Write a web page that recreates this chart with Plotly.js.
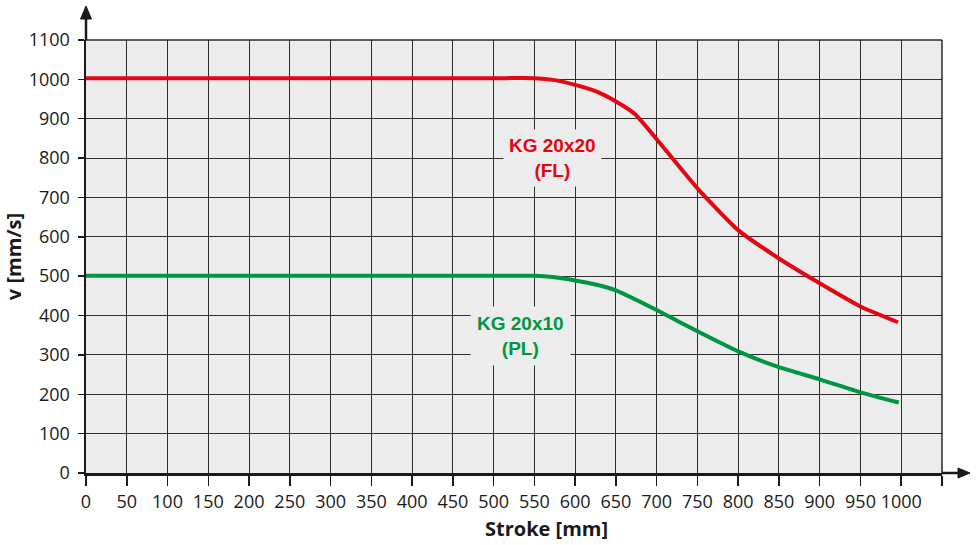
<!DOCTYPE html>
<html>
<head>
<meta charset="utf-8">
<script src="https://cdn.plot.ly/plotly-3.0.1.min.js"></script>
<style>html,body{margin:0;padding:0;background:#fff;}#chart{width:976px;height:545px;}</style>
</head>
<body>
<div id="chart"></div>
<script>
// Stroke [mm] vs velocity v [mm/s]
const strokeFL = [0, 500, 550, 575, 600, 625, 650, 674, 700, 750, 800, 850, 900, 950, 996];
const speedFL  = [1003, 1003, 1003, 998, 986, 970, 944, 911, 848, 723, 617, 545, 482, 423, 383];
const strokePL = [0, 500, 550, 575, 600, 625, 650, 700, 750, 800, 850, 900, 950, 997];
const speedPL  = [501, 501, 501, 497, 489, 479, 464, 414, 360, 309, 269, 238, 205, 179];
const xTickVals = [0,50,100,150,200,250,300,350,400,450,500,550,600,650,700,750,800,850,900,950,1000,1050];
const xTickText = ['0','50','100','150','200','250','300','350','400','450','500','550','600','650','700','750','800','850','900','950','1000',''];
const yTickVals = [0,100,200,300,400,500,600,700,800,900,1000,1100];
const labelFL = 'KG 20x20<br>(FL)';
const labelPL = 'KG 20x10<br>(PL)';
const xTitle = 'Stroke [mm]';
const yTitle = 'v [mm/s]';

const RED = '#e30613', GREEN = '#009640', INK = '#1a1a1a';

const traces = [
  {x: strokeFL, y: speedFL, mode: 'lines', line: {color: RED, width: 4, shape: 'spline', smoothing: 0.5}, hoverinfo: 'skip'},
  {x: strokePL, y: speedPL, mode: 'lines', line: {color: GREEN, width: 4, shape: 'spline', smoothing: 0.5}, hoverinfo: 'skip'}
];

const tickFont = {family: '"Open Sans", "Noto Sans", sans-serif', size: 18, color: INK};
const titleFont = {family: '"Open Sans", "Noto Sans", sans-serif', size: 20, color: INK, weight: 'bold'};
const layout = {
  width: 976, height: 545,
  margin: {l: 86, r: 34, t: 40, b: 72},
  paper_bgcolor: '#ffffff',
  plot_bgcolor: '#ececec',
  showlegend: false,
  xaxis: {
    range: [0, 1050], tickmode: 'array', tickvals: xTickVals, ticktext: xTickText,
    showgrid: true, gridcolor: '#2e2e2e', gridwidth: 1,
    ticks: 'outside', ticklen: 10, tickwidth: 1.5, tickcolor: INK,
    showline: true, linecolor: INK, linewidth: 2.5,
    zeroline: false, tickfont: tickFont, ticklabelstandoff: 1,
    fixedrange: true
  },
  yaxis: {
    range: [0, 1100], tickmode: 'array', tickvals: yTickVals,
    showgrid: true, gridcolor: '#2e2e2e', gridwidth: 1,
    ticks: 'outside', ticklen: 6, tickwidth: 1.5, tickcolor: INK,
    showline: true, linecolor: INK, linewidth: 2.5,
    zeroline: false, tickfont: tickFont, ticklabelstandoff: 4,
    title: {text: yTitle, font: titleFont, standoff: 6},
    fixedrange: true
  },
  shapes: [
    {type: 'line', xref: 'paper', yref: 'paper', x0: 1, x1: 1, y0: 0, y1: 1, line: {color: '#2a2a2a', width: 1.5}},
    {type: 'line', xref: 'paper', yref: 'paper', x0: 0, x1: 1, y0: 1, y1: 1, line: {color: '#2a2a2a', width: 1.5}},
    {type: 'line', xref: 'paper', yref: 'paper', x0: 1, x1: 1.022, y0: 0, y1: 0, line: {color: INK, width: 2.5}},
    {type: 'path', xref: 'paper', yref: 'paper', path: 'M 1.0187 0.0116 L 1.0327 0 L 1.0187 -0.0116 Z', fillcolor: INK, line: {color: INK, width: 1}},
    {type: 'line', xref: 'paper', yref: 'paper', x0: 0, x1: 0, y0: 1, y1: 1.06, line: {color: INK, width: 2.5}},
    {type: 'path', xref: 'paper', yref: 'paper', path: 'M -0.0064 1.0484 L 0 1.0785 L 0.0064 1.0484 Z', fillcolor: INK, line: {color: INK, width: 1}}
  ],
  annotations: [
    {x: 572, y: 800, xref: 'x', yref: 'y', text: labelFL, showarrow: false,
     font: {family: '"Liberation Sans", Arial, sans-serif', size: 19, color: RED, weight: 'bold'},
     bgcolor: '#ececec', borderpad: 5, align: 'center'},
    {x: 533, y: 349, xref: 'x', yref: 'y', text: labelPL, showarrow: false,
     font: {family: '"Liberation Sans", Arial, sans-serif', size: 19, color: GREEN, weight: 'bold'},
     bgcolor: '#ececec', borderpad: 6, align: 'center'},
    {x: 0.538, y: -0.128, xref: 'paper', yref: 'paper', xanchor: 'center', yanchor: 'middle',
     text: xTitle, showarrow: false, font: titleFont}
  ]
};

Plotly.newPlot('chart', traces, layout, {staticPlot: true, displayModeBar: false});
</script>
</body>
</html>
